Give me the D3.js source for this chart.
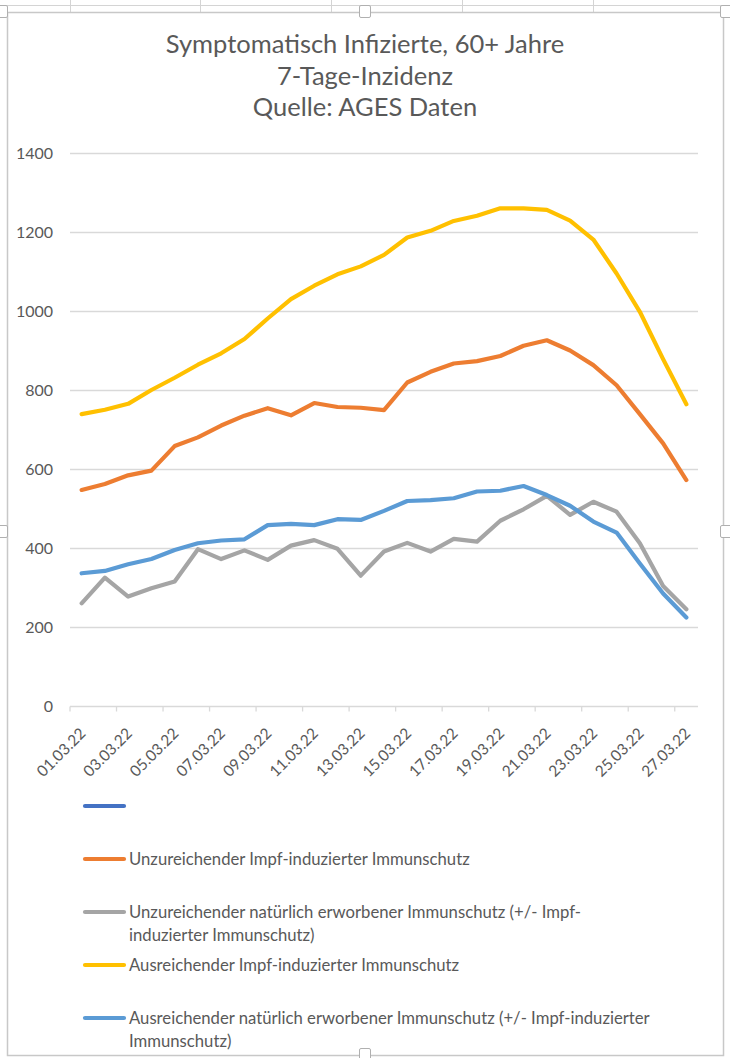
<!DOCTYPE html>
<html><head><meta charset="utf-8">
<script src="https://cdn.jsdelivr.net/npm/d3@7/dist/d3.min.js"></script>
<style>
html,body{margin:0;padding:0;background:#fff;}
svg{display:block;}
text{font-family:Lato,"Open Sans",sans-serif;fill:#595959;}
</style></head>
<body>
<svg id="c" width="730" height="1058"></svg>
<script>
const titleLines = ["Symptomatisch Infizierte, 60+ Jahre", "7-Tage-Inzidenz", "Quelle: AGES Daten"];
const dates = ["01.03.22","02.03.22","03.03.22","04.03.22","05.03.22","06.03.22","07.03.22","08.03.22","09.03.22","10.03.22","11.03.22","12.03.22","13.03.22","14.03.22","15.03.22","16.03.22","17.03.22","18.03.22","19.03.22","20.03.22","21.03.22","22.03.22","23.03.22","24.03.22","25.03.22","26.03.22","27.03.22"];
const yTicks = [0,200,400,600,800,1000,1200,1400];
const unzImpf = [547,562,584,596,658,680,710,735,754,736,767,757,755,749,819,846,867,873,886,912,926,900,863,812,739,665,572];
const unzNat  = [260,325,277,298,315,397,372,394,370,406,420,398,330,391,413,391,423,416,469,498,532,484,517,492,412,304,245];
const ausImpf = [739,750,765,800,831,864,893,929,981,1030,1064,1093,1113,1142,1186,1203,1228,1241,1260,1260,1256,1229,1181,1095,998,878,764];
const ausNat  = [336,342,359,372,395,412,419,422,458,461,458,473,471,494,519,521,526,543,545,557,534,507,467,439,361,285,224];
const seriesNames = [
  [""],
  ["Unzureichender Impf-induzierter Immunschutz"],
  ["Unzureichender natürlich erworbener Immunschutz (+/- Impf-", "induzierter Immunschutz)"],
  ["Ausreichender Impf-induzierter Immunschutz"],
  ["Ausreichender natürlich erworbener Immunschutz (+/- Impf-induzierter", "Immunschutz)"]
];
const seriesValues = [[], unzImpf, unzNat, ausImpf, ausNat];
const seriesColors = ["#4472C4", "#ED7D31", "#A5A5A5", "#FFC000", "#5B9BD5"];

const svg = d3.select("#c");

// spreadsheet background bits
const bg = svg.append("g");
bg.append("line").attr("x1",0).attr("x2",730).attr("y1",5.5).attr("y2",5.5).attr("stroke","#d4d4d4");
[70,200,331,462,593].forEach(x=>bg.append("line").attr("x1",x+0.5).attr("x2",x+0.5).attr("y1",0).attr("y2",12).attr("stroke","#d4d4d4"));
// chart frame
svg.append("rect").attr("x",7.5).attr("y",12.5).attr("width",716).attr("height",1043).attr("fill","#fff").attr("stroke","#c8c8c8").attr("stroke-width",1.5);
const handles = [[2,12],[365,12],[726,12],[2,532],[726,532],[365,1055]];
handles.forEach(([x,y])=>svg.append("rect").attr("x",x-5.5).attr("y",y-6.5).attr("width",11).attr("height",12).attr("rx",1.5).attr("fill","#fff").attr("stroke","#b0b0b0"));

// title
const title = svg.append("text").attr("text-anchor","middle").style("font-size","25.5px");
titleLines.forEach((t,i)=>title.append("tspan").attr("x",365).attr("y",53+i*31.5).text(t));

// scales
const x = d3.scaleBand().domain(dates).range([70,698]);
const y = d3.scaleLinear().domain([0,1400]).range([706,153]);

// gridlines
svg.append("g").selectAll("line").data(yTicks.filter(d=>d>0)).join("line")
  .attr("x1",70).attr("x2",698).attr("y1",d=>Math.round(y(d))+0.5).attr("y2",d=>Math.round(y(d))+0.5)
  .attr("stroke","#d9d9d9").attr("stroke-width",1.3);

// y axis labels
const yAxis = d3.axisLeft(y).tickValues(yTicks).tickFormat(d3.format("d")).tickSize(0).tickPadding(0);
const gy = svg.append("g").attr("transform","translate(53,0)").call(yAxis);
gy.select(".domain").remove();
gy.selectAll("text").style("font-size","16px").style("font-family","Lato").attr("fill","#595959").attr("dy","0.35em");

// x axis
const xTickVals = dates.filter((d,i)=>i%2===0);
const gx = svg.append("g").attr("transform",`translate(0,${Math.round(y(0))+0.5})`);
gx.append("line").attr("x1",70).attr("x2",698).attr("stroke","#d9d9d9").attr("stroke-width",1.3);
gx.selectAll("line.tk").data(xTickVals).join("line").attr("class","tk")
  .attr("x1",d=>x(d)).attr("x2",d=>x(d)).attr("y1",0).attr("y2",5).attr("stroke","#d9d9d9").attr("stroke-width",1.3);
gx.selectAll("text").data(xTickVals).join("text")
  .attr("text-anchor","end")
  .attr("transform",d=>`translate(${x(d)+x.bandwidth()/2+5},${28}) rotate(-45)`)
  .style("font-size","15.5px").text(d=>d);

// lines
const line = d3.line().x((d,i)=>x(dates[i])+x.bandwidth()/2).y(d=>y(d));
seriesValues.forEach((vals,k)=>{
  if(!vals.length) return;
  svg.append("path").datum(vals).attr("d",line).attr("fill","none")
    .attr("stroke",seriesColors[k]).attr("stroke-width",4.2)
    .attr("stroke-linejoin","round").attr("stroke-linecap","round");
});

// legend
const legY = [806,859,912,965,1018];
seriesNames.forEach((lines,k)=>{
  const g = svg.append("g");
  g.append("line").attr("x1",85).attr("x2",124).attr("y1",legY[k]).attr("y2",legY[k])
    .attr("stroke",seriesColors[k]).attr("stroke-width",4.2).attr("stroke-linecap","round");
  lines.forEach((t,j)=>{
    if(!t) return;
    g.append("text").attr("x",129).attr("y",legY[k]+6+j*23).style("font-size","16.7px").text(t);
  });
});
</script>
</body></html>
